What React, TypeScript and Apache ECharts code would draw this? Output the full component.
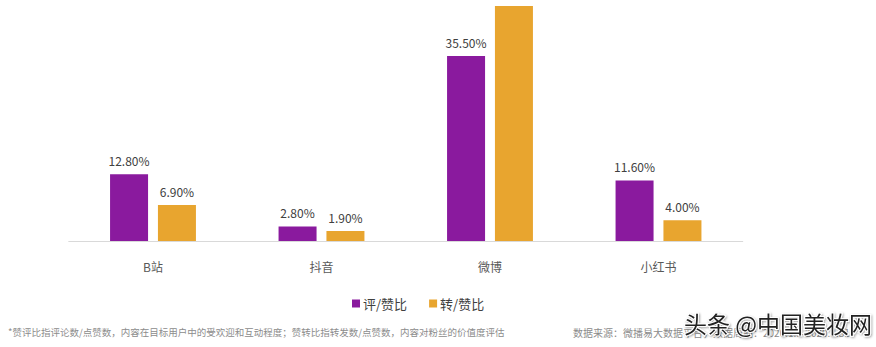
import React, { useEffect, useRef } from "react";
import * as echarts from "echarts";

const categories = ["B站", "抖音", "微博", "小红书"];
const commentRatio = [12.8, 2.8, 35.5, 11.6];
const repostRatio = [6.9, 1.9, 45.1, 4.0];
const seriesNames = ["评/赞比", "转/赞比"];
const footnote =
  "*赞评比指评论数/点赞数，内容在目标用户中的受欢迎和互动程度；赞转比指转发数/点赞数，内容对粉丝的价值度评估";
const sourceNote = "数据来源：微播易大数据平台，数据周期：2020.1.1-2020.3.31";
const badge = "头条 @中国美妆网";

const FONT = '"Microsoft YaHei", "Noto Sans CJK SC", "Noto Sans", sans-serif';

export default function App() {
  const ref = useRef<HTMLDivElement>(null);

  useEffect(() => {
    document.body.style.margin = "0";
    const chart = echarts.init(ref.current!, null, { renderer: "svg" });
    const pct = (p: any) => p.value.toFixed(2) + "%";
    chart.setOption({
      animation: false,
      backgroundColor: "#ffffff",
      textStyle: { fontFamily: FONT },
      grid: { left: 68.75, right: 133.25, top: 0, bottom: 106 },
      legend: {
        data: seriesNames,
        left: 347,
        top: 292,
        itemWidth: 8,
        itemHeight: 8,
        itemGap: 22,
        icon: "rect",
        textStyle: { color: "#404040", fontSize: 13, fontFamily: FONT, padding: [0, 0, 0, -2] },
      },
      xAxis: {
        type: "category",
        data: categories,
        axisLine: { lineStyle: { color: "#d9d9d9" } },
        axisTick: { show: false },
        axisLabel: { color: "#595959", fontSize: 12, margin: 19, fontFamily: FONT },
      },
      yAxis: {
        type: "value",
        min: 0,
        max: 46.25,
        show: false,
        splitLine: { show: false },
      },
      series: [
        {
          name: seriesNames[0],
          type: "bar",
          data: commentRatio,
          barWidth: 38,
          barGap: "26%",
          itemStyle: { color: "#8a1a9e" },
          label: {
            show: true,
            position: "top",
            distance: 8,
            color: "#404040",
            fontSize: 12,
            fontFamily: FONT,
            formatter: pct,
          },
        },
        {
          name: seriesNames[1],
          type: "bar",
          data: repostRatio.map((v, i) =>
            i === 2 ? { value: v, label: { show: false } } : v
          ),
          barWidth: 38,
          itemStyle: { color: "#e8a52f" },
          label: {
            show: true,
            position: "top",
            distance: 8,
            color: "#404040",
            fontSize: 12,
            fontFamily: FONT,
            formatter: pct,
          },
        },
      ],
      graphic: [
        {
          type: "text",
          left: 8,
          top: 327,
          style: { text: footnote, fill: "#8c8c8c", fontSize: 9.5, fontFamily: FONT },
        },
        {
          type: "text",
          left: 573,
          top: 327,
          style: { text: sourceNote, fill: "#8c8c8c", fontSize: 10, fontFamily: FONT },
        },
        {
          type: "text",
          left: 683,
          top: 310,
          style: {
            text: badge,
            fill: "#222222",
            fontSize: 23,
            fontFamily: FONT,
            stroke: "#ffffff",
            lineWidth: 2,
            textShadowColor: "rgba(0,0,0,0.35)",
            textShadowBlur: 2,
            textShadowOffsetX: 1,
            textShadowOffsetY: 1,
          },
        },
      ],
    });
    return () => chart.dispose();
  }, []);

  return <div ref={ref} style={{ width: 876, height: 347 }} />;
}
